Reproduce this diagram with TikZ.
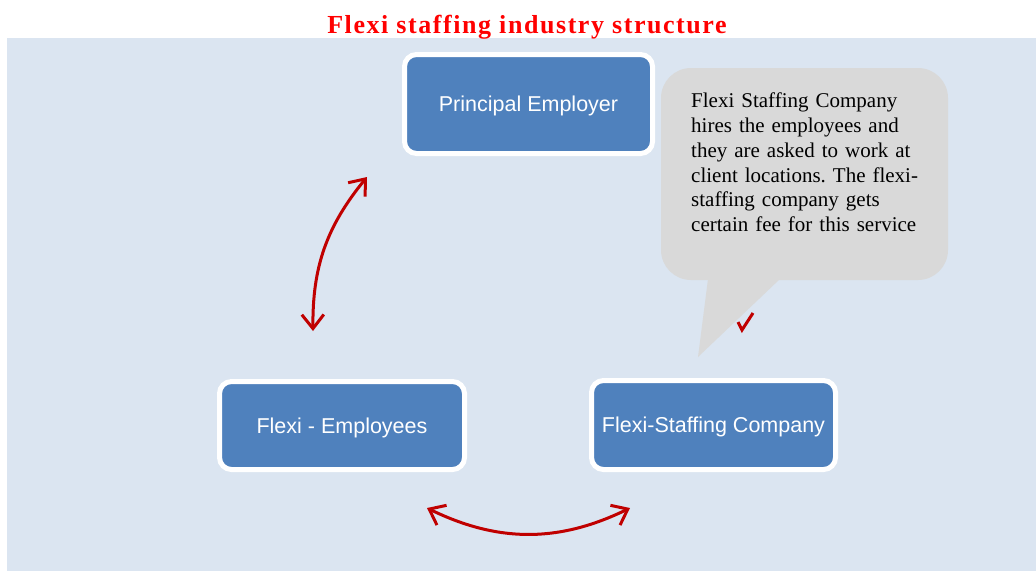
\documentclass[tikz,border=0pt]{standalone}
\usepackage{fontspec}
\setmainfont{Liberation Serif}
\newfontfamily\boxfont{Liberation Sans}
\newfontfamily\titlefont[LetterSpace=6]{Liberation Serif}
\usetikzlibrary{arrows.meta}
\definecolor{bgblue}{HTML}{DBE5F1}
\definecolor{boxblue}{HTML}{4F81BD}
\definecolor{calloutgray}{HTML}{D9D9D9}
\definecolor{arrowred}{HTML}{C00000}
\frenchspacing
\begin{document}
\begin{tikzpicture}[x=1pt,y=-1pt,
  box/.style={rectangle, rounded corners=12pt, fill=boxblue, draw=white, line width=5pt, text=white, font=\boxfont\fontsize{21.5}{25}\selectfont, inner sep=0pt, text depth=0pt},
  arr/.style={draw=arrowred, line width=3pt, {Straight Barb[length=14pt,width=22pt]}-{Straight Barb[length=14pt,width=22pt]}},
  notetext/.style={anchor=north west, text width=250pt, align=left, inner sep=0pt, font=\fontsize{21}{24.8}\selectfont},
]
\useasboundingbox (0,0) rectangle (1036,573);
\fill[white] (0,0) rectangle (1036,573);
\fill[bgblue] (7,38) rectangle (1036,571);
\node[font=\titlefont\bfseries\fontsize{26}{30}\selectfont, text=red, anchor=base, inner sep=0pt] (title) at (527,33) {Flexi staffing industry structure};
% callout
\fill[calloutgray, rounded corners=30pt] (661,68) rectangle (948,280);
\fill[calloutgray] (708,279) -- (698,357) -- (780,279) -- cycle;
\node[notetext] (note) at (691,92.7) {Flexi Staffing Company\\hires the employees and\\they are asked to work at\\client locations. The flexi-\\staffing company gets\\certain fee for this service};
% boxes
\node[box, minimum width=248pt, minimum height=99pt] (pe) at (528.5,104) {Principal Employer};
\node[box, minimum width=245pt, minimum height=88pt] (fe) at (342,425.5) {Flexi - Employees};
\node[box, minimum width=244pt, minimum height=89pt] (fs) at (713.5,425) {Flexi-Staffing Company};
% arrows
\coordinate (a1) at (313,331);
\coordinate (a2) at (367,177);
\draw[arr] (a1) to[bend left=20] (a2);
\coordinate (b1) at (427,508);
\coordinate (b2) at (630,508);
\draw[arr] (b1) to[bend right=26] (b2);
\draw[arrowred, line width=3pt] (738,322) -- (742,330) -- (753,313);
\end{tikzpicture}
\end{document}
